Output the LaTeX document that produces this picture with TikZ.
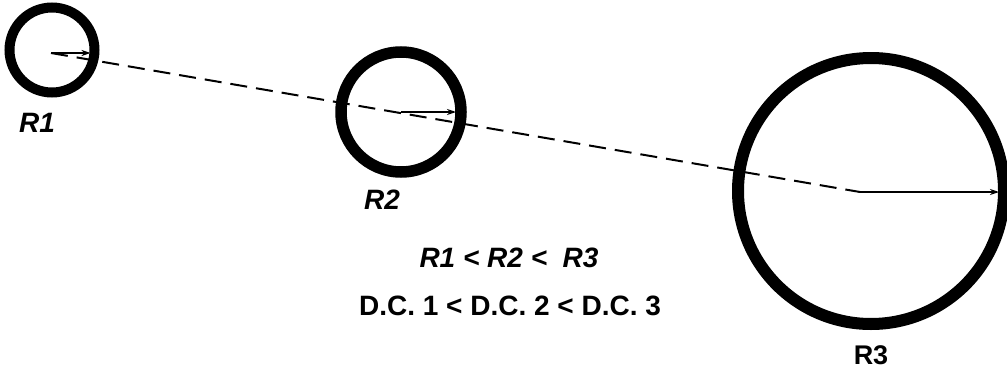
\documentclass[tikz,border=0pt]{standalone}
\usepackage{fontspec}
\setmainfont{Liberation Sans}
\usetikzlibrary{arrows.meta}
\begin{document}
\begin{tikzpicture}[x=1pt,y=-1pt,
  ring/.style={circle, draw, outer sep=0pt, inner sep=0pt},
  radius arrow/.style={line width=1.4pt, -{Stealth[length=9pt,width=6pt]}},
  rlabel/.style={font=\fontsize{28}{32}\selectfont\bfseries\itshape},
  rlabelup/.style={font=\fontsize{27}{32}\selectfont\bfseries},
  relation/.style={font=\fontsize{28}{32}\selectfont\bfseries\itshape},
  dcline/.style={font=\fontsize{28}{32}\selectfont\bfseries}]
\useasboundingbox (0,0) rectangle (1007,372);
% the three rings
\node[ring, line width=10pt, minimum size=85pt] (c1) at (52,50) {};
\node[ring, line width=11.5pt, minimum size=120pt] (c2) at (401,112) {};
\node[ring, line width=12pt, minimum size=266pt] (c3) at (871,191) {};
\coordinate (o1) at (51,53);
\coordinate (o3) at (860,192);
% line through the centres
\draw[line width=2pt, dash pattern=on 17pt off 9pt] (o1) -- (o3);
% radii
\draw[radius arrow, shorten >=4pt] (o1) -- (c1.east |- o1);
\draw[radius arrow, shorten >=5pt] (c2.center) -- (c2.east);
\draw[radius arrow, shorten >=5pt] (o3) -- (c3.east |- o3);
% labels
\node[rlabel] (r1) at (37,123) {R1};
\node[rlabel] (r2) at (382,200) {R2};
\node[rlabelup] (r3) at (871,355) {R3};
\node[relation] (rel) at (509,258) {R1 < R2 <\ \ R3};
\node[dcline] (dc) at (510,306) {D.C. 1 < D.C. 2 < D.C. 3};
\end{tikzpicture}
\end{document}
